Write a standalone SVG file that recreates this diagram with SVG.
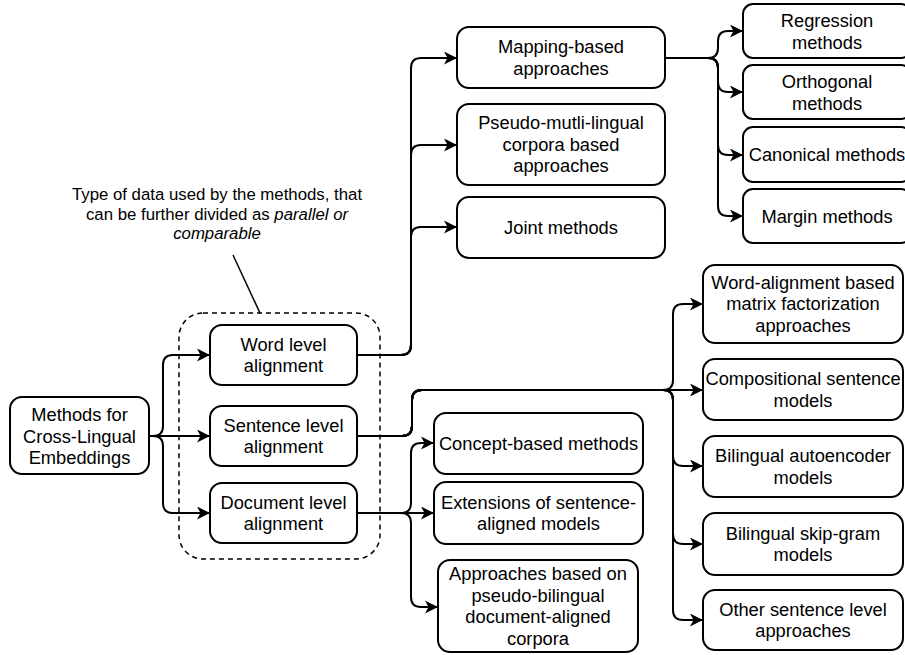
<svg xmlns="http://www.w3.org/2000/svg" width="905" height="655" viewBox="0 0 905 655">
  <defs>
    <marker id="arrow" markerUnits="userSpaceOnUse" markerWidth="14" markerHeight="14" refX="13" refY="6.5" orient="auto">
      <path d="M0,0 L13,6.5 L0,13 L3.5,6.5 Z" fill="#000"/>
    </marker>
    <style>
      .box { fill: #fff; stroke: #000; stroke-width: 2; }
      .lbl { font-family: "Liberation Sans", Arial, Helvetica, sans-serif; font-size: 18.3px; fill: #000; text-anchor: middle; }
      .note { font-family: "Liberation Sans", Arial, Helvetica, sans-serif; font-size: 16.8px; fill: #000; text-anchor: middle; }
      .edge { fill: none; stroke: #000; stroke-width: 2; marker-end: url(#arrow); }
      .group { fill: none; stroke: #000; stroke-width: 1.5; stroke-dasharray: 5 4; }
    </style>
  </defs>

  <rect width="905" height="655" fill="#fff"/>

  <!-- annotation about the level-of-alignment group -->
  <g id="group-note">
    <rect class="group" x="179" y="313" width="201" height="246" rx="24" ry="24"/>
    <line x1="233" y1="255" x2="260" y2="313" stroke="#000" stroke-width="1.5"/>
    <text class="note" x="217" y="200">Type of data used by the methods, that</text>
    <text class="note" x="217" y="219.5">can be further divided as <tspan font-style="italic">parallel or</tspan></text>
    <text class="note" x="217" y="239" font-style="italic">comparable</text>
  </g>

  <!-- connectors -->
  <g id="connectors">
    <!-- root to alignment levels -->
    <path class="edge" d="M149,436 H153 Q163,436 163,426 V365 Q163,355 173,355 H210"/>
    <path class="edge" d="M149,436 H210"/>
    <path class="edge" d="M149,436 H153 Q163,436 163,446 V503 Q163,513 173,513 H210"/>

    <!-- word level branches -->
    <path class="edge" d="M357,355 H401 Q411,355 411,345 V68 Q411,58 421,58 H457"/>
    <path class="edge" d="M357,355 H401 Q411,355 411,345 V155 Q411,145 421,145 H457"/>
    <path class="edge" d="M357,355 H401 Q411,355 411,345 V237 Q411,227 421,227 H457"/>

    <!-- mapping-based sub-methods -->
    <path class="edge" d="M665,58 H708 Q718,58 718,48 V41 Q718,31 728,31 H743"/>
    <path class="edge" d="M665,58 H708 Q718,58 718,68 V82 Q718,92 728,92 H743"/>
    <path class="edge" d="M665,58 H708 Q718,58 718,68 V145 Q718,155 728,155 H743"/>
    <path class="edge" d="M665,58 H708 Q718,58 718,68 V206 Q718,216 728,216 H743"/>

    <!-- sentence level branches -->
    <path class="edge" d="M357,436 H402 Q412,436 412,426 V400 Q412,390 422,390 H663 Q673,390 673,380 V314 Q673,304 683,304 H703"/>
    <path class="edge" d="M357,436 H402 Q412,436 412,426 V400 Q412,390 422,390 H703"/>
    <path class="edge" d="M357,436 H402 Q412,436 412,426 V400 Q412,390 422,390 H663 Q673,390 673,400 V456 Q673,466 683,466 H703"/>
    <path class="edge" d="M357,436 H402 Q412,436 412,426 V400 Q412,390 422,390 H663 Q673,390 673,400 V534 Q673,544 683,544 H703"/>
    <path class="edge" d="M357,436 H402 Q412,436 412,426 V400 Q412,390 422,390 H663 Q673,390 673,400 V610 Q673,620 683,620 H703"/>

    <!-- document level branches -->
    <path class="edge" d="M357,513 H401 Q411,513 411,503 V453 Q411,443 421,443 H434"/>
    <path class="edge" d="M357,513 H434"/>
    <path class="edge" d="M357,513 H401 Q411,513 411,523 V597 Q411,607 421,607 H438"/>
  </g>

  <!-- root -->
  <g id="root">
    <rect class="box" x="10" y="397" width="139" height="77" rx="12"/>
    <text class="lbl" x="79.5" y="420.9">Methods for</text>
    <text class="lbl" x="79.5" y="442.5">Cross-Lingual</text>
    <text class="lbl" x="79.5" y="464.1">Embeddings</text>
  </g>

  <!-- alignment levels -->
  <g id="word-level">
    <rect class="box" x="210" y="325" width="147" height="60" rx="12"/>
    <text class="lbl" x="283.5" y="350.5">Word level</text>
    <text class="lbl" x="283.5" y="372.1">alignment</text>
  </g>
  <g id="sentence-level">
    <rect class="box" x="210" y="406" width="147" height="60" rx="12"/>
    <text class="lbl" x="283.5" y="431.5">Sentence level</text>
    <text class="lbl" x="283.5" y="453.1">alignment</text>
  </g>
  <g id="document-level">
    <rect class="box" x="210" y="483" width="147" height="60" rx="12"/>
    <text class="lbl" x="283.5" y="508.5">Document level</text>
    <text class="lbl" x="283.5" y="530.1">alignment</text>
  </g>

  <!-- word level approaches -->
  <g id="mapping-based">
    <rect class="box" x="457" y="27" width="208" height="61" rx="12"/>
    <text class="lbl" x="561" y="53">Mapping-based</text>
    <text class="lbl" x="561" y="74.6">approaches</text>
  </g>
  <g id="pseudo-multilingual">
    <rect class="box" x="457" y="104" width="208" height="81" rx="12"/>
    <text class="lbl" x="561" y="129.1">Pseudo-mutli-lingual</text>
    <text class="lbl" x="561" y="150.7">corpora based</text>
    <text class="lbl" x="561" y="172.3">approaches</text>
  </g>
  <g id="joint-methods">
    <rect class="box" x="457" y="197" width="208" height="61" rx="12"/>
    <text class="lbl" x="561" y="233.8">Joint methods</text>
  </g>

  <!-- mapping-based sub-methods -->
  <g id="regression">
    <rect class="box" x="743" y="4" width="168" height="54" rx="10"/>
    <text class="lbl" x="827" y="27">Regression</text>
    <text class="lbl" x="827" y="48.6">methods</text>
  </g>
  <g id="orthogonal">
    <rect class="box" x="743" y="65" width="168" height="54" rx="10"/>
    <text class="lbl" x="827" y="88">Orthogonal</text>
    <text class="lbl" x="827" y="109.6">methods</text>
  </g>
  <g id="canonical">
    <rect class="box" x="743" y="127" width="168" height="55" rx="10"/>
    <text class="lbl" x="827" y="161">Canonical methods</text>
  </g>
  <g id="margin">
    <rect class="box" x="743" y="189" width="168" height="54" rx="10"/>
    <text class="lbl" x="827" y="222.5">Margin methods</text>
  </g>

  <!-- sentence level approaches -->
  <g id="word-alignment-mf">
    <rect class="box" x="703" y="265" width="200" height="78" rx="12"/>
    <text class="lbl" x="803" y="288.7">Word-alignment based</text>
    <text class="lbl" x="803" y="310.3">matrix factorization</text>
    <text class="lbl" x="803" y="331.9">approaches</text>
  </g>
  <g id="compositional">
    <rect class="box" x="703" y="359" width="200" height="61" rx="12"/>
    <text class="lbl" x="803" y="385">Compositional sentence</text>
    <text class="lbl" x="803" y="406.6">models</text>
  </g>
  <g id="bilingual-autoencoder">
    <rect class="box" x="703" y="436" width="200" height="61" rx="12"/>
    <text class="lbl" x="803" y="462">Bilingual autoencoder</text>
    <text class="lbl" x="803" y="483.6">models</text>
  </g>
  <g id="bilingual-skip-gram">
    <rect class="box" x="703" y="513" width="200" height="62" rx="12"/>
    <text class="lbl" x="803" y="539.5">Bilingual skip-gram</text>
    <text class="lbl" x="803" y="561.1">models</text>
  </g>
  <g id="other-sentence">
    <rect class="box" x="703" y="590" width="200" height="60" rx="12"/>
    <text class="lbl" x="803" y="615.5">Other sentence level</text>
    <text class="lbl" x="803" y="637.1">approaches</text>
  </g>

  <!-- document level approaches -->
  <g id="concept-based">
    <rect class="box" x="434" y="413" width="209" height="61" rx="12"/>
    <text class="lbl" x="538.5" y="449.8">Concept-based methods</text>
  </g>
  <g id="extensions">
    <rect class="box" x="434" y="482" width="209" height="62" rx="12"/>
    <text class="lbl" x="538.5" y="508.5">Extensions of sentence-</text>
    <text class="lbl" x="538.5" y="530.1">aligned models</text>
  </g>
  <g id="pseudo-bilingual-doc">
    <rect class="box" x="438" y="560" width="200" height="92" rx="12"/>
    <text class="lbl" x="538" y="580.1">Approaches based on</text>
    <text class="lbl" x="538" y="601.7">pseudo-bilingual</text>
    <text class="lbl" x="538" y="623.3">document-aligned</text>
    <text class="lbl" x="538" y="644.9">corpora</text>
  </g>
</svg>
